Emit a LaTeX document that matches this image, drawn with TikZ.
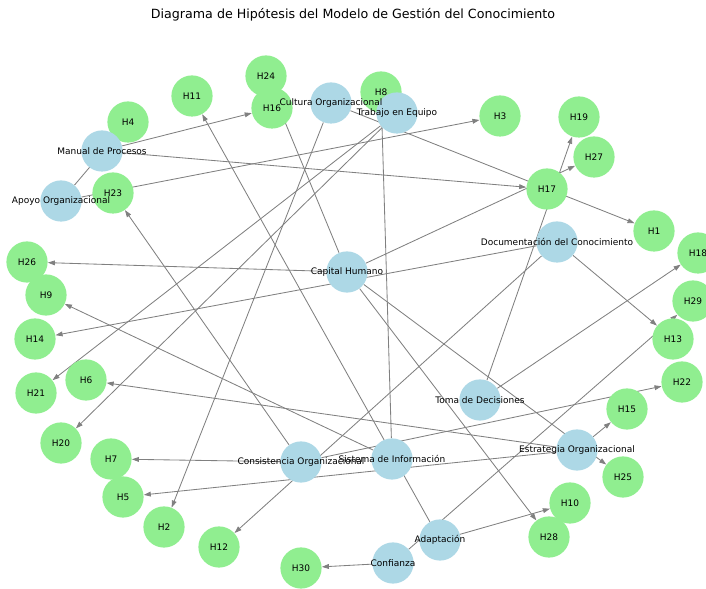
\documentclass[tikz,border=0pt]{standalone}
\usepackage{fontspec}
\setmainfont{DejaVu Sans}
\usetikzlibrary{arrows.meta}
\pgfdeclarelayer{edges}
\pgfsetlayers{edges,main}
\definecolor{factorblue}{HTML}{ADD8E6}
\definecolor{hypgreen}{HTML}{90EE90}

\begin{document}
\begin{tikzpicture}[x=0.025cm,y=-0.025cm,
    factor/.style={circle,fill=factorblue,minimum size=1.03cm,inner sep=0pt},
    hyp/.style={circle,fill=hypgreen,minimum size=1.03cm,inner sep=0pt},
    lbl/.style={font=\fontsize{6.4}{7}\selectfont,inner sep=0pt},
    rel/.style={draw=gray,line width=0.6pt,-{Triangle[length=5pt,width=3.4pt]}}]
    \useasboundingbox (0,0) rectangle (706,589);
    \node[font=\fontsize{9}{11}\selectfont] (title) at (353,15)
    {Diagrama de Hipótesis del Modelo de Gestión del Conocimiento};
    % hipotesis
    \foreach \n/\x/\y in {1/654/231, 2/164/527, 3/500/116, 4/128/122, 6/86/380,
      7/111/459, 8/381/92, 10/570/503, 11/192/96, 12/219/547, 13/673/339,
      14/35/339, 15/627/409, 17/547/189, 18/698/253, 19/579/117, 20/61/443,
      21/36/393, 22/682/382, 23/113/193, 24/266/76, 25/623/477, 26/27/262,
      27/594/157, 28/549/537, 29/693/301, 30/301/568, 5/123/497, 9/46/295,
      16/272/108}
    \node[hyp] (h\n) at (\x,\y) {};
    % factores
    \node[factor] (man) at (102,151) {};
    \node[factor] (apo) at (61,201) {};
    \node[factor] (cul) at (331,103) {};
    \node[factor] (tra) at (397,113) {};
    \node[factor] (cap) at (347,272) {};
    \node[factor] (doc) at (557,242) {};
    \node[factor] (tom) at (480,400) {};
    \node[factor] (con) at (301,462) {};
    \node[factor] (sis) at (392,459) {};
    \node[factor] (est) at (577,450) {};
    \node[factor] (ada) at (440,540) {};
    \node[factor] (cof) at (393,563) {};
    % relaciones
    \begin{pgfonlayer}{edges}
    \foreach \s/\t in {man/h16, man/h17, apo/h4, apo/h3, cul/h1, cul/h2,
      tra/h21, tra/h20, cap/h27, cap/h26, cap/h24, cap/h28, cap/h25,
      doc/h13, doc/h14, doc/h12, tom/h19, tom/h18, con/h23, con/h22, con/h7,
      sis/h8, sis/h9, est/h6, est/h5, est/h15, ada/h11, ada/h10,
      cof/h29, cof/h30}
    \draw[rel] (\s) -- (\t);
    \end{pgfonlayer}
    % etiquetas
    \foreach \n in {1,...,30}
    \node[lbl] (lh\n) at (h\n) {H\n};
    \foreach \s/\t in {man/Manual de Procesos, apo/Apoyo Organizacional,
      cul/Cultura Organizacional, tra/Trabajo en Equipo, cap/Capital Humano,
      doc/Documentación del Conocimiento, tom/Toma de Decisiones,
      con/Consistencia Organizacional, sis/Sistema de Información,
      est/Estrategia Organizacional, ada/Adaptación, cof/Confianza}
    \node[lbl] (l\s) at (\s) {\t};
\end{tikzpicture}
\end{document}
